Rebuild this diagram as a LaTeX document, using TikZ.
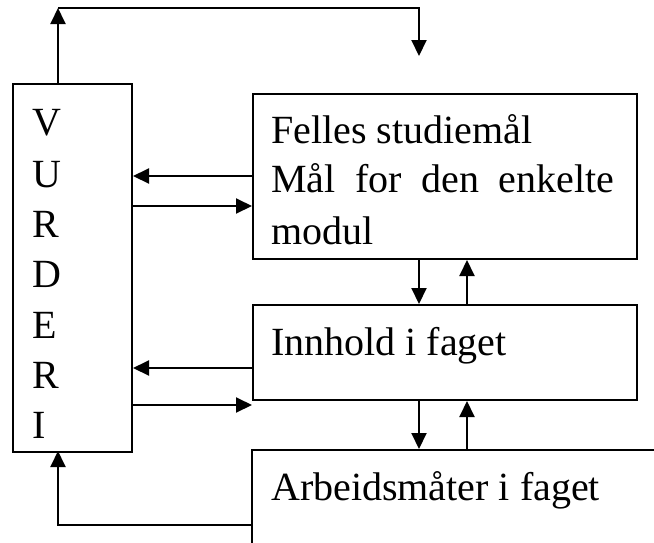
\documentclass[tikz,border=0pt]{standalone}
\usepackage{fontspec}
\setmainfont{Liberation Serif}
\usetikzlibrary{arrows.meta}
\begin{document}
\begin{tikzpicture}[x=1pt,y=-1pt,
  box/.style={draw, line width=2pt, inner sep=0pt, anchor=north west},
  lbl/.style={font=\fontsize{40}{48}\selectfont, inner sep=0pt, anchor=base west},
  arr/.style={-{Triangle[length=16pt,width=15pt]}, line width=2pt}]
\clip (0,0) rectangle (654,542);
% boxes
\node[box, minimum width=119pt, minimum height=368pt] (vurd) at (12,83) {};
\node[box, minimum width=384pt, minimum height=165pt] (felles) at (252,93) {};
\node[box, minimum width=384pt, minimum height=95pt] (innhold) at (252,304) {};
\node[box, minimum width=450pt, minimum height=150pt] (arb) at (251,449) {};
% texts
\node[lbl] (v1) at (32,135) {V};
\node[lbl] (v2) at (32,187) {U};
\node[lbl] (v3) at (32,237) {R};
\node[lbl] (v4) at (32,287) {D};
\node[lbl] (v5) at (32,338) {E};
\node[lbl] (v6) at (32,388) {R};
\node[lbl] (v7) at (32,438) {I};
\node[lbl] (f1) at (271,143) {Felles studiemål};
\node[lbl] (f2) at (271,192) {\makebox[343pt][s]{Mål for den enkelte}};
\node[lbl] (f3) at (271,244) {modul};
\node[lbl] (i1) at (271,355) {Innhold i faget};
\node[lbl] (a1) at (271,500) {Arbeidsmåter i faget};
% coordinates
\coordinate (vtop) at (58,83);
\coordinate (topL) at (58,8);
\coordinate (topR) at (419,8);
\coordinate (topEnd) at (419,56);
\coordinate (vbot) at (58,451);
% top feedback
\draw[arr] (vtop) -- (topL);
\draw[arr] (topL) -- (topR) -- (topEnd);
% horizontal arrows
\draw[arr] (felles.west |- 0,176) -- (vurd.east |- 0,176);
\draw[arr] (vurd.east |- 0,206) -- (felles.west |- 0,206);
\draw[arr] (innhold.west |- 0,368) -- (vurd.east |- 0,368);
\draw[arr] (vurd.east |- 0,405) -- (innhold.west |- 0,405);
% vertical arrows
\draw[arr] (felles.south -| 419,0) -- (innhold.north -| 419,0);
\draw[arr] (innhold.north -| 467,0) -- (felles.south -| 467,0);
\draw[arr] (innhold.south -| 419,0) -- (arb.north -| 419,0);
\draw[arr] (arb.north -| 467,0) -- (innhold.south -| 467,0);
% bottom feedback
\draw[arr] (arb.west |- 0,525) -| (vbot);
\end{tikzpicture}
\end{document}
